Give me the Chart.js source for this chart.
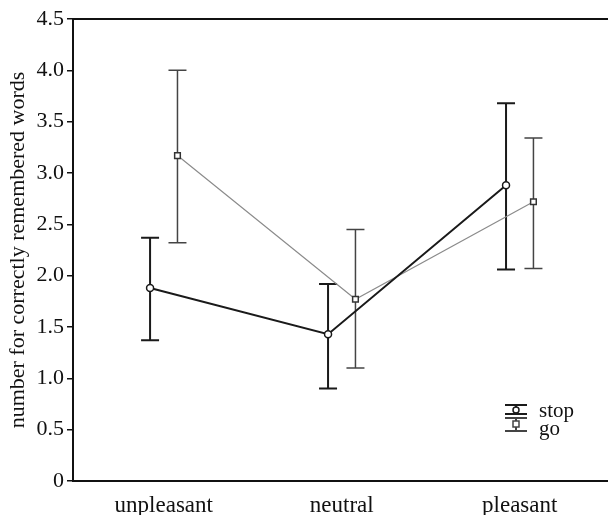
<!DOCTYPE html>
<html>
<head>
<meta charset="utf-8">
<style>
  html, body { margin: 0; padding: 0; background: #fff; }
</style>
<script src="https://cdn.jsdelivr.net/npm/chart.js@4.4.1/dist/chart.umd.min.js"></script>
</head>
<body>
<canvas id="chart" width="608" height="515"></canvas>
<script>
// data (mean and error bar ends)
const categories = ['unpleasant', 'neutral', 'pleasant'];
const yTicks = [0, 0.5, 1, 1.5, 2, 2.5, 3, 3.5, 4, 4.5];

const stopMean = [1.88, 1.43, 2.88];
const stopLow = [1.37, 0.90, 2.06];
const stopHigh = [2.37, 1.92, 3.68];

const goMean = [3.17, 1.77, 2.72];
const goLow = [2.32, 1.10, 2.07];
const goHigh = [4.00, 2.45, 3.34];

const dodge = 0.077; // stop left of the category, go right of it
const serif = "'Liberation Serif', 'Times New Roman', serif";

const toPoints = (vals, shift) => vals.map((v, i) => ({ x: i + shift, y: v }));

// whiskers with caps, drawn under the lines and markers
const errorBars = {
    id: 'errorBars',
    beforeDatasetsDraw(chart) {
        const ctx = chart.ctx;
        const xs = chart.scales.x;
        const ys = chart.scales.y;
        chart.data.datasets.forEach((ds) => {
            ctx.save();
            ctx.strokeStyle = ds.barColor;
            ctx.lineWidth = ds.barWidth;
            ds.data.forEach((p, i) => {
                const x = xs.getPixelForValue(p.x);
                const top = ys.getPixelForValue(ds.high[i]);
                const bot = ys.getPixelForValue(ds.low[i]);
                ctx.beginPath();
                ctx.moveTo(x, top); ctx.lineTo(x, bot);
                ctx.moveTo(x - 9, top); ctx.lineTo(x + 9, top);
                ctx.moveTo(x - 9, bot); ctx.lineTo(x + 9, bot);
                ctx.stroke();
            });
            ctx.restore();
        });
    }
};

// frame runs off the right edge of the picture + small legend bottom right
const frameAndLegend = {
    id: 'frameAndLegend',
    afterDraw(chart) {
        const ctx = chart.ctx;
        const a = chart.chartArea;
        ctx.save();
        ctx.strokeStyle = '#111';
        ctx.lineWidth = 2;
        ctx.beginPath();
        ctx.moveTo(a.left, a.top);
        ctx.lineTo(chart.width, a.top);
        ctx.moveTo(a.right - 2, a.bottom);
        ctx.lineTo(chart.width, a.bottom);
        ctx.stroke();

        const cx = 516;
        const stop = chart.data.datasets[0];
        const go = chart.data.datasets[1];

        // stop icon
        ctx.strokeStyle = stop.barColor;
        ctx.lineWidth = 2;
        ctx.beginPath();
        ctx.moveTo(cx - 11, a.bottom - 76); ctx.lineTo(cx + 11, a.bottom - 76);
        ctx.moveTo(cx, a.bottom - 76); ctx.lineTo(cx, a.bottom - 67);
        ctx.moveTo(cx - 11, a.bottom - 67); ctx.lineTo(cx + 11, a.bottom - 67);
        ctx.stroke();
        ctx.fillStyle = '#fff';
        ctx.lineWidth = 1.5;
        ctx.beginPath();
        ctx.arc(cx, a.bottom - 71, 3, 0, Math.PI * 2);
        ctx.fill(); ctx.stroke();

        // go icon
        ctx.strokeStyle = go.barColor;
        ctx.lineWidth = 2;
        ctx.beginPath();
        ctx.moveTo(cx - 11, a.bottom - 63); ctx.lineTo(cx + 11, a.bottom - 63);
        ctx.moveTo(cx, a.bottom - 63); ctx.lineTo(cx, a.bottom - 50);
        ctx.moveTo(cx - 11, a.bottom - 50); ctx.lineTo(cx + 11, a.bottom - 50);
        ctx.stroke();
        ctx.lineWidth = 1.5;
        ctx.fillRect(cx - 3, a.bottom - 60, 6, 6);
        ctx.strokeRect(cx - 3, a.bottom - 60, 6, 6);

        ctx.fillStyle = '#111';
        ctx.font = '21px ' + serif;
        ctx.textBaseline = 'alphabetic';
        ctx.fillText(stop.label, cx + 23, a.bottom - 64);
        ctx.fillText(go.label, cx + 23, a.bottom - 46);
        ctx.restore();
    }
};

new Chart(document.getElementById('chart'), {
    type: 'line',
    data: {
        datasets: [
            {
                label: 'stop',
                data: toPoints(stopMean, -dodge),
                low: stopLow,
                high: stopHigh,
                barColor: '#1a1a1a',
                barWidth: 2,
                borderColor: '#1a1a1a',
                borderWidth: 2,
                pointStyle: 'circle',
                pointRadius: 3.5,
                pointBorderWidth: 1.5,
                pointBackgroundColor: '#fff',
                pointBorderColor: '#1a1a1a'
            },
            {
                label: 'go',
                data: toPoints(goMean, dodge),
                low: goLow,
                high: goHigh,
                barColor: '#444',
                barWidth: 1.5,
                borderColor: '#8c8c8c',
                borderWidth: 1.2,
                pointStyle: 'rect',
                pointRadius: 4,
                pointBorderWidth: 1.5,
                pointBackgroundColor: '#fff',
                pointBorderColor: '#333'
            }
        ]
    },
    options: {
        responsive: false,
        animation: false,
        events: [],
        layout: { padding: { top: 19, right: 0, left: 0, bottom: 0 } },
        plugins: { legend: { display: false }, tooltip: { enabled: false } },
        scales: {
            x: {
                type: 'linear',
                min: -0.51,
                max: 2.465,
                afterBuildTicks: (s) => { s.ticks = categories.map((c, i) => ({ value: i })); },
                afterFit: (s) => { s.height = 34; },
                grid: { display: false },
                border: { display: true, color: '#111', width: 2 },
                ticks: {
                    color: '#111',
                    padding: 3,
                    font: { family: serif, size: 23 },
                    callback: (v) => categories[v]
                }
            },
            y: {
                min: 0,
                max: 4.5,
                afterBuildTicks: (s) => { s.ticks = yTicks.map((v) => ({ value: v })); },
                afterFit: (s) => { s.width = 73; },
                grid: { drawOnChartArea: false, drawTicks: true, tickLength: 6, color: '#111', lineWidth: 1.5 },
                border: { display: true, color: '#111', width: 2 },
                ticks: {
                    color: '#111',
                    padding: 3,
                    font: { family: serif, size: 22 },
                    callback: (v) => (v === 0 ? '0' : v.toFixed(1))
                },
                title: {
                    display: true,
                    text: 'number for correctly remembered words',
                    color: '#111',
                    font: { family: serif, size: 22 },
                    padding: { top: 5, bottom: 0 }
                }
            }
        }
    },
    plugins: [errorBars, frameAndLegend]
});
</script>
</body>
</html>
